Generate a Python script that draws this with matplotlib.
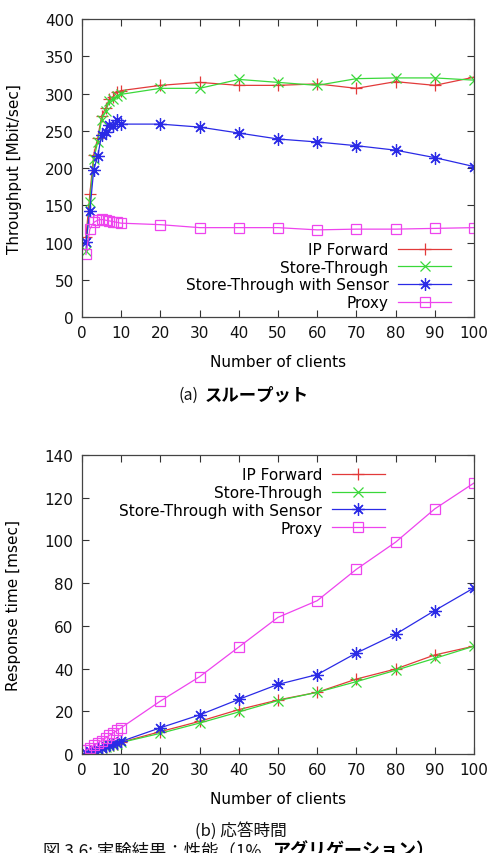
import numpy as np
import matplotlib
matplotlib.use('Agg')
import matplotlib.pyplot as plt

plt.rcParams['font.family'] = ['DejaVu Sans', 'Noto Sans CJK JP']

# ── Data ───────────────────────────────────────────────────────────────────────
clients = [1, 2, 3, 4, 5, 6, 7, 8, 9, 10, 20, 30, 40, 50, 60, 70, 80, 90, 100]

labels = ['IP Forward', 'Store-Through', 'Store-Through with Sensor', 'Proxy']

thr_ipfwd = [107, 165, 218, 240, 270, 280, 293, 296, 302, 304,
             311, 315, 311, 311, 313, 307, 316, 311, 322]
thr_store = [88, 155, 212, 235, 265, 276, 290, 293, 297, 299,
             307, 307, 319, 315, 311, 320, 321, 321, 318]
thr_sensor = [101, 143, 198, 216, 244, 248, 258, 257, 264, 259,
              259, 255, 247, 239, 235, 230, 224, 214, 202]
thr_proxy = [84, 118, 127, 130, 131, 130, 129, 128, 127, 126,
             124, 120, 120, 120, 117, 118, 118, 119, 120]

rt_ipfwd = [0.6, 1.1, 1.6, 2.2, 2.7, 3.3, 3.8, 4.4, 4.9, 5.5,
            10.5, 15.3, 20.8, 25.3, 28.9, 35.1, 39.8, 46.4, 50.5]
rt_store = [0.6, 1.1, 1.6, 2.1, 2.7, 3.2, 3.8, 4.3, 4.9, 5.4,
            9.7, 14.5, 19.7, 25.0, 28.9, 33.9, 39.2, 44.8, 50.5]
rt_sensor = [0.7, 1.3, 1.8, 2.4, 3.0, 3.6, 4.1, 4.7, 5.3, 5.9,
             12.3, 18.3, 25.6, 32.6, 37.2, 47.3, 56.1, 67.2, 77.8]
rt_proxy = [1.7, 2.8, 4.0, 5.2, 6.3, 7.5, 8.7, 9.9, 11.1, 12.3,
            24.8, 36.2, 50.1, 64.0, 71.8, 86.5, 99.2, 114.8, 126.9]

x_ticks = np.arange(0, 101, 10)
thr_ticks = np.arange(0, 401, 50)
rt_ticks = np.arange(0, 141, 20)

# ── Styles (gnuplot-like) ─────────────────────────────────────────────────────
styles = [
    dict(color='#e23a3a', marker='+', ms=8, mew=0.9),
    dict(color='#3ad83a', marker='x', ms=7, mew=0.9),
    dict(color='#2a2ae6', marker=(8, 2, 0), ms=9, mew=0.9),
    dict(color='#ee44ee', marker='s', ms=7.5, mew=0.9, mfc='none'),
]
FS = 11

fig = plt.figure(figsize=(4.94, 8.54), dpi=100)
ax1 = fig.add_axes([0.166, 0.6276, 0.7935, 0.3489])
ax2 = fig.add_axes([0.166, 0.1159, 0.7935, 0.3501])


def style_axes(ax, yticks):
    ax.set_xlim(0, 100)
    ax.set_ylim(yticks[0], yticks[-1])
    ax.set_xticks(x_ticks)
    ax.set_yticks(yticks)
    ax.tick_params(direction='in', length=5, width=0.8, top=True, right=True,
                   labelsize=FS, colors='#333333', labelcolor='#111111', pad=6)
    for s in ax.spines.values():
        s.set_color('#444444')
        s.set_linewidth(0.9)


legend_kw = dict(frameon=False, markerfirst=False, fontsize=FS, handlelength=3.45,
                 handletextpad=0.65, labelspacing=0.18, borderpad=0.3)

for vals, lab, st in zip([thr_ipfwd, thr_store, thr_sensor, thr_proxy], labels, styles):
    ax1.plot(clients, vals, lw=0.9, label=lab, **st)
style_axes(ax1, thr_ticks)
ax1.set_xlabel('Number of clients', fontsize=FS, labelpad=10)
ax1.set_ylabel('Throughput [Mbit/sec]', fontsize=FS, labelpad=16)
ax1.legend(loc='lower right', bbox_to_anchor=(0.973, -0.018), **legend_kw)

for vals, lab, st in zip([rt_ipfwd, rt_store, rt_sensor, rt_proxy], labels, styles):
    ax2.plot(clients, vals, lw=0.9, label=lab, **st)
style_axes(ax2, rt_ticks)
ax2.set_xlabel('Number of clients', fontsize=FS, labelpad=10)
ax2.set_ylabel('Response time [msec]', fontsize=FS, labelpad=17)
ax2.legend(loc='upper right', bbox_to_anchor=(0.803, 1.0), **legend_kw)

# ── Captions ──────────────────────────────────────────────────────────────────
jp = ['Noto Sans CJK JP', 'DejaVu Sans']
fig.text(198 / 494, 1 - 395 / 854, '(a)', ha='right', va='center', fontsize=11.5,
         family=jp, color='#111111')
fig.text(205 / 494, 1 - 395 / 854, 'スループット', ha='left', va='center', fontsize=12.5,
         family=jp, fontweight='bold', color='#000000')
fig.text(241 / 494, 1 - 831 / 854, '(b) 応答時間', ha='center', va='center', fontsize=12,
         family=jp, color='#111111')
fig.text(43 / 494, 1 - 851 / 854, '図 3.6: 実験結果：性能（1%', ha='left', va='center',
         fontsize=12.5, family=jp, color='#111111')
fig.text(273 / 494, 1 - 851 / 854, 'アグリゲーション）', ha='left', va='center',
         fontsize=13, family=jp, fontweight='bold', color='#000000')

fig.savefig('out.png', dpi=100)
